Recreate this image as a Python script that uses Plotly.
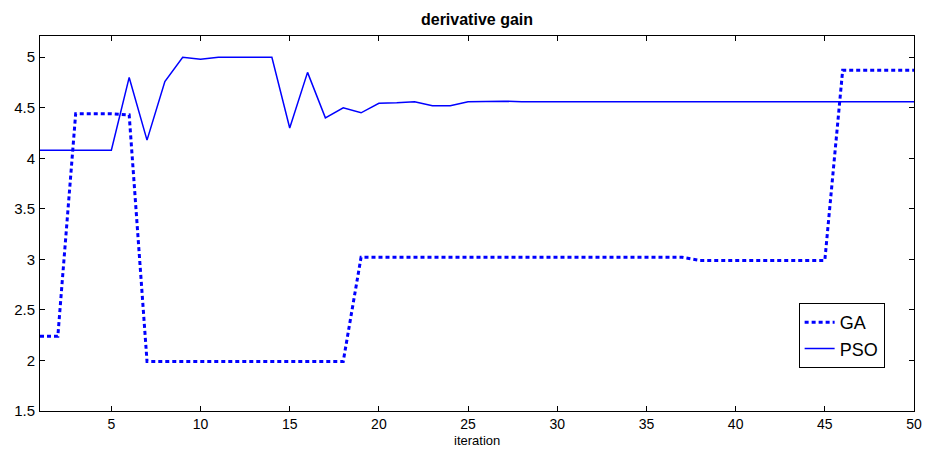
import plotly.graph_objects as go

iterations = list(range(1, 51))
ga = [2.24, 2.24, 4.44, 4.44, 4.44, 4.43, 1.99, 1.99, 1.99, 1.99,
      1.99, 1.99, 1.99, 1.99, 1.99, 1.99, 1.99, 1.99, 3.02, 3.02,
      3.02, 3.02, 3.02, 3.02, 3.02, 3.02, 3.02, 3.02, 3.02, 3.02,
      3.02, 3.02, 3.02, 3.02, 3.02, 3.02, 3.02, 2.99, 2.99, 2.99,
      2.99, 2.99, 2.99, 2.99, 2.99, 4.87, 4.87, 4.87, 4.87, 4.87]
pso = [4.08, 4.08, 4.08, 4.08, 4.08, 4.80, 4.18, 4.76, 5.00, 4.98,
       5.00, 5.00, 5.00, 5.00, 4.30, 4.85, 4.40, 4.50, 4.45, 4.545,
       4.55, 4.56, 4.52, 4.52, 4.56, 4.565, 4.565, 4.56, 4.56, 4.565,
       4.56, 4.56, 4.56, 4.56, 4.56, 4.56, 4.56, 4.56, 4.56, 4.56,
       4.56, 4.56, 4.56, 4.56, 4.56, 4.56, 4.56, 4.56, 4.56, 4.56]
xticks = [5, 10, 15, 20, 25, 30, 35, 40, 45, 50]
yticks = [1.5, 2, 2.5, 3, 3.5, 4, 4.5, 5]

FONT = "Liberation Sans, Arial"
BOTTOM = 39
PLOT_H = 450 - 36 - BOTTOM

fig = go.Figure()
fig.add_trace(go.Scatter(x=iterations, y=ga, mode="lines", name="GA",
                         line=dict(color="#0000FF", width=3, dash="4px,3px")))
fig.add_trace(go.Scatter(x=iterations, y=pso, mode="lines", name="PSO",
                         line=dict(color="#0000FF", width=1.5)))

axis_common = dict(showline=True, linecolor="black", linewidth=1, mirror="ticks",
                   ticks="inside", ticklen=5, tickcolor="black", showgrid=False,
                   zeroline=False, automargin=False)
fig.update_xaxes(range=[1, 50], tickvals=xticks,
                 tickfont=dict(family=FONT, size=14, color="black"), **axis_common)
fig.update_yaxes(range=[1.5, 5.21], tickvals=yticks, ticktext=[str(v) for v in yticks],
                 ticklabelstandoff=1, tickfont=dict(family=FONT, size=15, color="black"),
                 **axis_common)

fig.add_annotation(text="iteration", xref="paper", yref="paper", x=0.5, y=-BOTTOM / PLOT_H,
                   xanchor="center", yanchor="bottom", showarrow=False,
                   font=dict(family=FONT, size=13, color="black"))

fig.update_layout(
    width=927, height=450,
    margin=dict(l=40, r=13, t=36, b=BOTTOM, autoexpand=False),
    plot_bgcolor="white", paper_bgcolor="white",
    title=dict(text="<b>derivative gain</b>", x=0.5, xref="paper", y=1 - 19 / 450,
               yref="container", yanchor="middle",
               font=dict(family=FONT, size=16, color="black")),
    legend=dict(x=0.868, y=(411 - 303) / PLOT_H, xanchor="left", yanchor="top",
                bordercolor="black", borderwidth=1,
                bgcolor="white", font=dict(family=FONT, size=18, color="black"),
                tracegroupgap=0, itemwidth=30),
    showlegend=True,
)

fig.write_html("out.html")
